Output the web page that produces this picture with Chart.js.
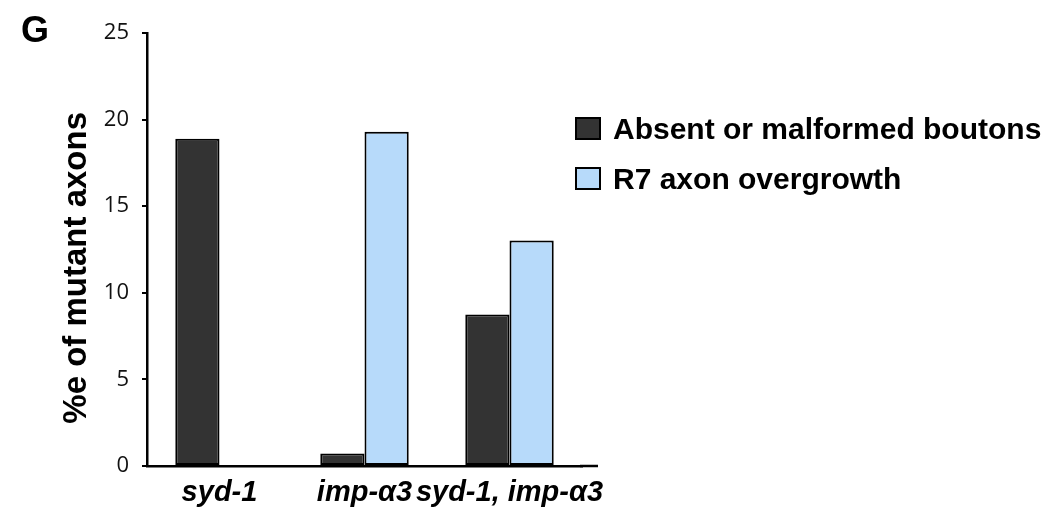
<!DOCTYPE html>
<html>
<head>
<meta charset="utf-8">
<script src="https://cdn.jsdelivr.net/npm/chart.js@4/dist/chart.umd.min.js"></script>
<style>
  html, body { margin: 0; padding: 0; background: #fff; }
  #wrap { position: relative; width: 1049px; height: 510px; }
  #panel { position: absolute; left: 21px; top: 12px; font-family: "Liberation Sans", Arial, sans-serif; font-weight: bold; font-size: 36px; line-height: 1; color: #000; }
  #legend { position: absolute; left: 575px; top: 113px; font-family: "Liberation Sans", Arial, sans-serif; font-weight: bold; font-size: 30px; color: #000; }
  .row { display: flex; align-items: center; height: 31px; margin-bottom: 19px; }
  .box { width: 22px; height: 19px; border: 2px solid #000; margin-right: 12px; flex: none; }
</style>
</head>
<body>
<div id="wrap">
  <canvas id="c" width="1049" height="510"></canvas>
  <div id="panel">G</div>
  <div id="legend"></div>
</div>
<script>
const categories = ["syd-1", "imp-\u03b13", "syd-1, imp-\u03b13"];
const seriesNames = ["Absent or malformed boutons", "R7 axon overgrowth"];
const absentValues = [18.9, 0.72, 8.74];
const overgrowthValues = [0, 19.3, 13.02];
const yTicks = [0, 5, 10, 15, 20, 25];
const yTitle = "%e of mutant axons";
const colors = ["#333333", "#b7dafa"];

const datasets = [
  { label: seriesNames[0], data: absentValues, backgroundColor: colors[0], borderColor: "#000", borderWidth: 2, borderSkipped: false },
  { label: seriesNames[1], data: overgrowthValues, backgroundColor: colors[1], borderColor: "#000", borderWidth: 2, borderSkipped: false }
];

// HTML legend from dataset labels/colours
const lg = document.getElementById('legend');
datasets.forEach(d => {
  const r = document.createElement('div'); r.className = 'row';
  const b = document.createElement('div'); b.className = 'box'; b.style.background = d.backgroundColor;
  const t = document.createElement('span'); t.textContent = d.label;
  r.appendChild(b); r.appendChild(t); lg.appendChild(r);
});

const extendAxis = {
  id: 'extendAxis',
  afterDraw(chart) {
    const { ctx, chartArea } = chart;
    ctx.save();
    ctx.strokeStyle = '#000';
    ctx.lineWidth = 2.5;
    ctx.beginPath();
    ctx.moveTo(chartArea.right - 2, chartArea.bottom);
    ctx.lineTo(chartArea.right + 16, chartArea.bottom);
    ctx.stroke();
    ctx.restore();
  }
};

new Chart(document.getElementById('c'), {
  type: 'bar',
  data: { labels: categories, datasets },
  plugins: [extendAxis],
  options: {
    responsive: false,
    animation: false,
    devicePixelRatio: 1,
    layout: { padding: { left: 0, top: 33, right: 467, bottom: 0 } },
    plugins: { legend: { display: false }, tooltip: { enabled: false } },
    datasets: { bar: { categoryPercentage: 0.61, barPercentage: 1.0 } },
    scales: {
      x: {
        grid: { display: false },
        border: { display: true, color: '#000', width: 2.5 },
        ticks: {
          color: '#000',
          padding: 2,
          maxRotation: 0,
          autoSkip: false,
          font: { family: '"Liberation Sans", Arial, sans-serif', size: 29, weight: 'bold', style: 'italic' }
        },
        afterFit(s) { s.height = 44; }
      },
      y: {
        min: 0, max: 25,
        afterBuildTicks(s) { s.ticks = yTicks.map(v => ({ value: v })); },
        grid: { drawOnChartArea: false, drawTicks: true, tickLength: 5, color: '#000', lineWidth: 2 },
        border: { display: true, color: '#000', width: 2.5 },
        ticks: {
          color: '#111',
          padding: 13,
          font: { family: '"Open Sans", sans-serif', size: 22 }
        },
        title: {
          display: true,
          text: yTitle + "    ",
          color: '#000',
          padding: { top: 60, bottom: 0 },
          font: { family: '"Liberation Sans", Arial, sans-serif', size: 33, weight: 'bold', lineHeight: 1 }
        },
        afterFit(s) { s.width = 147; }
      }
    }
  }
});
</script>
</body>
</html>
